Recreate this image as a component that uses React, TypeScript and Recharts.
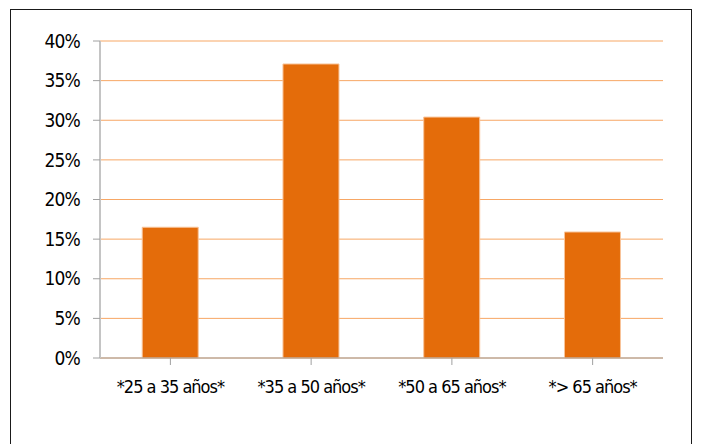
import React from "react";
import { BarChart, Bar, XAxis, YAxis, CartesianGrid } from "recharts";

const categories = ["*25 a 35 años*", "*35 a 50 años*", "*50 a 65 años*", "*> 65 años*"];
const values = [16.5, 37.1, 30.4, 15.9];
const yTicks = [0, 5, 10, 15, 20, 25, 30, 35, 40];

const data = categories.map((c, i) => ({ name: c, value: values[i] }));

const FONT = "'Liberation Sans Narrow', 'DejaVu Sans Condensed', 'Roboto', sans-serif";

export default function App() {
  return (
    <div style={{ position: "absolute", left: 0, top: 0, width: 702, height: 444, overflow: "hidden", background: "#fff" }}>
      <div
        style={{
          position: "absolute",
          left: 10,
          top: 9,
          width: 682,
          height: 460,
          border: "1px solid #1a1a1a",
          boxSizing: "border-box",
        }}
      />
      <div style={{ position: "absolute", left: 0, top: 0 }}>
        <BarChart
          width={702}
          height={444}
          data={data}
          margin={{ top: 41, right: 39, left: 40, bottom: 56 }}
          barCategoryGap="30%"
        >
          <CartesianGrid vertical={false} stroke="#F7A765" strokeWidth={1} />
          <XAxis
            dataKey="name"
            height={30}
            stroke="#A0A0A0"
            tickSize={7}
            tickMargin={15}
            interval={0}
            tick={{ fill: "#000", fontSize: 18, fontFamily: FONT, fontStretch: "condensed", letterSpacing: -1 }}
          />
          <YAxis
            width={60}
            domain={[0, 40]}
            ticks={yTicks}
            interval={0}
            tickFormatter={(v: number) => `${v}%`}
            stroke="#C4C4C4"
            strokeWidth={2}
            tickSize={7}
            tickMargin={13}
            tickLine={{ stroke: "#A0A0A0", strokeWidth: 1 }}
            tick={{ fill: "#000", fontSize: 19, fontFamily: FONT, fontStretch: "condensed", letterSpacing: -0.8 }}
          />
          <Bar dataKey="value" fill="#E46C0A" stroke="#F8C49A" strokeWidth={1} isAnimationActive={false} />
        </BarChart>
      </div>
    </div>
  );
}
